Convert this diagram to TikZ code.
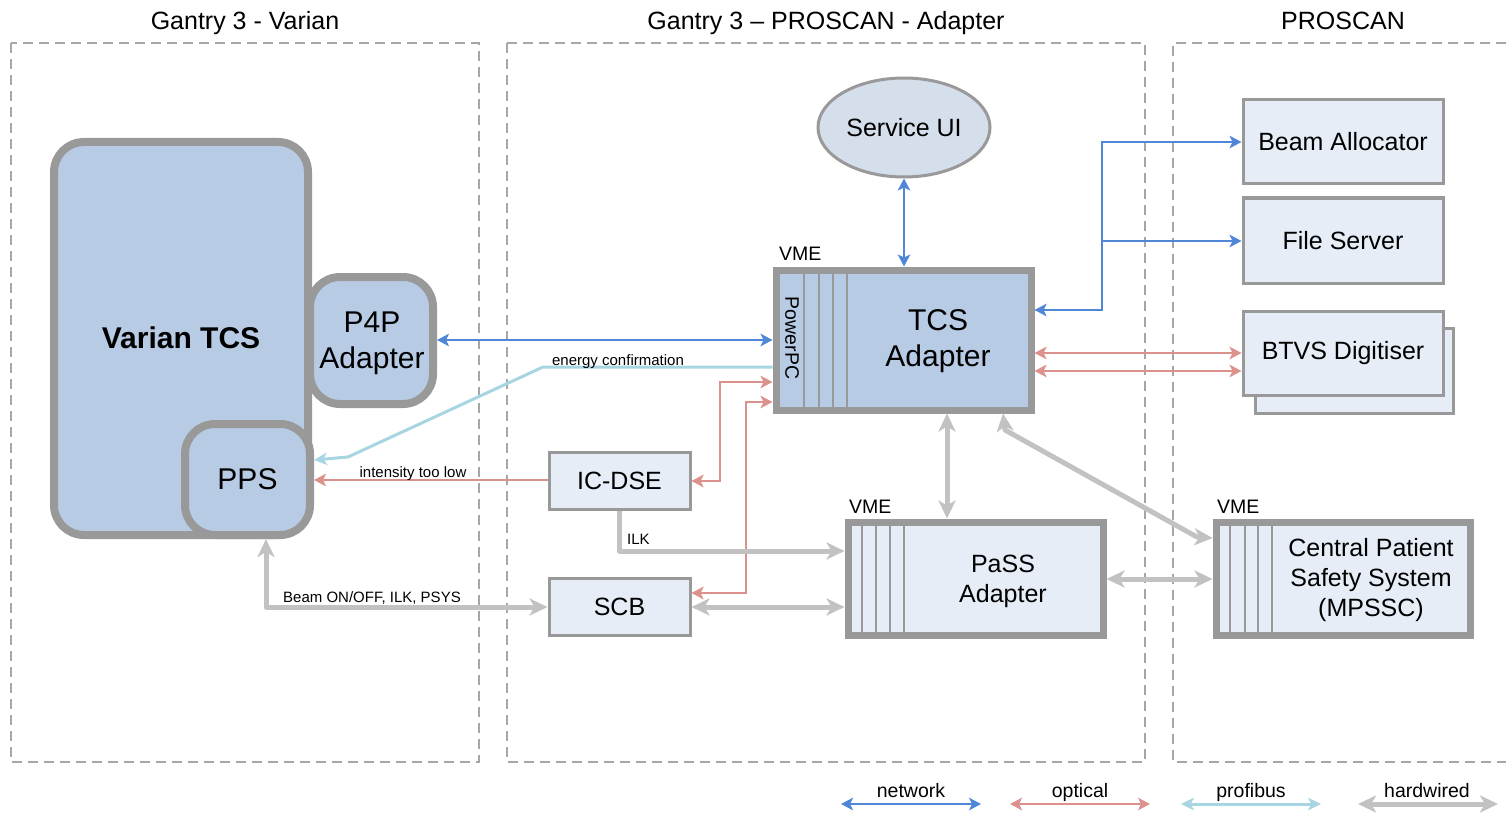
\documentclass[tikz,border=0pt]{standalone}
\usepackage{fontspec}
\setmainfont{Liberation Sans}
\usetikzlibrary{arrows.meta,shapes.geometric,calc}
\definecolor{netc}{HTML}{4F86D6}
\definecolor{optc}{HTML}{DD918C}
\definecolor{profc}{HTML}{A8D5E2}
\definecolor{hwc}{HTML}{C2C2C2}
\definecolor{bordc}{HTML}{999999}
\definecolor{darkfill}{HTML}{B7CBE4}
\definecolor{lightfill}{HTML}{E6EDF7}
\definecolor{ellfill}{HTML}{D5DEEB}
\definecolor{regc}{HTML}{A6A6A6}
\newcommand{\fsBig}{\fontsize{30}{36}\selectfont}
\newcommand{\fsMed}{\fontsize{25}{30}\selectfont}
\newcommand{\fsVme}{\fontsize{19.5}{23}\selectfont}
\newcommand{\fsSmall}{\fontsize{15}{18}\selectfont}
\tikzset{
  region/.style={draw=regc, line width=1.5pt, dash pattern=on 10pt off 6pt},
  title/.style={font=\fsMed, anchor=base, inner sep=0pt},
  roundbox/.style={draw=bordc, fill=darkfill, line width=8pt, rounded corners=30pt, inner sep=0pt},
  vmebox/.style={draw=bordc, line width=7pt, inner sep=0pt},
  lightbox/.style={draw=bordc, fill=lightfill, line width=3pt, inner sep=0pt, font=\fsMed},
  slot/.style={draw=bordc, line width=1.6pt},
  netw/.style={draw=netc, line width=2.7pt, >={Stealth[length=12pt,width=12.5pt,inset=3pt]}},
  opt/.style={draw=optc, line width=2.7pt, >={Stealth[length=12pt,width=12.5pt,inset=3pt]}},
  prof/.style={draw=profc, line width=3pt, >={Stealth[length=13pt,width=12.5pt,inset=3.5pt]}},
  hw/.style={draw=hwc, line width=5pt, line join=round, >={Stealth[length=18pt,width=17pt,inset=5pt]}},
  lbl/.style={inner sep=0pt, anchor=base west},
}
\begin{document}
\begin{tikzpicture}[x=1pt,y=-1pt]
\useasboundingbox (0,0) rectangle (1506,813);

% regions
\draw[region] (11,43) rectangle (479,762);
\draw[region] (507,43) rectangle (1145,762);
\draw[region] (1506,43) -- (1173,43) -- (1173,762) -- (1506,762);
\node[title] (t1) at (245,30) {Gantry 3 - Varian};
\node[title] (t2) at (826,30) {Gantry 3 – PROSCAN - Adapter};
\node[title] (t3) at (1343,30) {PROSCAN};

% Varian side
\node[roundbox, minimum width=254pt, minimum height=393pt] (varian) at (181,338.5) {};
\node[font=\fsBig\bfseries, inner sep=0pt] (varianl) at (181,338) {Varian TCS};
\node[roundbox, minimum width=123pt, minimum height=127pt] (p4p) at (371.5,340.5) {};
\node[font=\fsBig, align=center, inner sep=0pt] (p4pl) at (372,343) {P4P\\Adapter};
\node[roundbox, minimum width=125pt, minimum height=111pt, font=\fsBig] (pps) at (247.5,479.5) {PPS};

% Service UI
\node[ellipse, draw=bordc, fill=ellfill, line width=3pt, minimum width=172pt, minimum height=99pt, inner sep=0pt, font=\fsMed] (serv) at (904,127.5) {Service UI};

% TCS adapter
\node[vmebox, fill=darkfill, minimum width=255pt, minimum height=140pt] (tcs) at (903.5,340) {};
\foreach \xx in {804,819,833,847} \draw[slot] (\xx,273.5) -- (\xx,406.5);
\node[font=\fsVme, rotate=-90, inner sep=0pt] (ppc) at (792,338) {PowerPC};
\node[font=\fsBig, align=center, inner sep=0pt] (tcsl) at (938,341) {TCS\\Adapter};
\node[lbl, font=\fsVme] (vme1) at (779,260) {VME};

% servers
\node[lightbox, minimum width=200pt, minimum height=84pt] (ba) at (1343,142) {Beam Allocator};
\node[lightbox, minimum width=200pt, minimum height=85pt] (fs) at (1343,240.5) {File Server};
\node[lightbox, minimum width=198pt, minimum height=85pt] (btvsb) at (1354,370.5) {};
\node[lightbox, minimum width=200pt, minimum height=84pt] (btvs) at (1343,353) {BTVS Digitiser};

% IC-DSE, SCB
\node[lightbox, minimum width=141pt, minimum height=57pt] (icdse) at (619.5,480.5) {IC-DSE};
\node[lightbox, minimum width=141pt, minimum height=57pt] (scb) at (619.5,606.5) {SCB};

% PaSS adapter
\node[vmebox, fill=lightfill, minimum width=255pt, minimum height=113pt] (pass) at (975.5,578.5) {};
\foreach \xx in {862,876,890,904} \draw[slot] (\xx,525.5) -- (\xx,631.5);
\node[font=\fsMed, align=center, inner sep=0pt] (passl) at (1003,581) {PaSS\\Adapter};
\node[lbl, font=\fsVme] (vme2) at (849,513) {VME};

% MPSSC
\node[vmebox, fill=lightfill, minimum width=254pt, minimum height=113pt] (mpssc) at (1343,578.5) {};
\foreach \xx in {1230,1245,1258,1272} \draw[slot] (\xx,525.5) -- (\xx,631.5);
\node[font=\fsMed, align=center, inner sep=0pt] (mpsscl) at (1371,580) {Central Patient\\Safety System\\(MPSSC)};
\node[lbl, font=\fsVme] (vme3) at (1217,513) {VME};

% network connectors
\draw[netw,<->] (serv.south) -- (serv.south |- tcs.north);
\draw[netw,<->] (p4p.east |- 0,340) -- (tcs.west |- 0,340);
\coordinate (jba) at (1102,310);
\coordinate (jfs) at (1102,241);
\draw[netw,<->] (tcs.east |- 0,310) -- (jba) -- (1102,142) -- (ba.west);
\draw[netw,->] (jfs) -- (fs.west |- jfs);

% optical connectors
\draw[opt,<->] (tcs.east |- 0,353) -- (btvs.west |- 0,353);
\draw[opt,<->] (tcs.east |- 0,371) -- (btvs.west |- 0,371);
\draw[opt,<->] (tcs.west |- 0,382) -- (720,382) -- (720,481) -- (icdse.east |- 0,481);
\draw[opt,<->] (tcs.west |- 0,402) -- (746,402) -- (746,593) -- (scb.east |- 0,593);
\draw[opt,->] (icdse.west |- 0,480) -- (pps.east |- 0,480);
\node[lbl, font=\fsSmall, anchor=base] (itl) at (413,477) {intensity too low};

% profibus
\draw[prof,->] (tcs.west |- 0,367) -- (543,367) -- (348,457) -- (pps.east |- 0,460);
\node[lbl, font=\fsSmall, anchor=base] (ec) at (618,365) {energy confirmation};

% hardwired
\draw[hw,->] (icdse.south) |- (pass.west |- 0,551);
\node[lbl, font=\fsSmall] (ilk) at (627,544) {ILK};
\draw[hw,<->] (266,0 |- pps.south) |- (scb.west |- 0,607);
\node[lbl, font=\fsSmall] (beam) at (283,602) {Beam ON/OFF, ILK, PSYS};
\draw[hw,<->] (scb.east |- 0,607) -- (pass.west |- 0,607);
\draw[hw,<->] (947,0 |- tcs.south) -- (947,0 |- pass.north);
\draw[hw,<->] (1003,0 |- tcs.south) -- (1005,430) -- (1197,537) -- (mpssc.west |- 0,538);
\draw[hw,<->] (pass.east |- 0,579) -- (mpssc.west |- 0,579);

% legend
\coordinate (l1a) at (841,804); \coordinate (l1b) at (981,804);
\coordinate (l2a) at (1010,804); \coordinate (l2b) at (1150,804);
\coordinate (l3a) at (1181,804); \coordinate (l3b) at (1321,804);
\coordinate (l4a) at (1358,804); \coordinate (l4b) at (1498,804);
\draw[netw,<->] (l1a) -- (l1b);
\draw[opt,<->] (l2a) -- (l2b);
\draw[prof,<->] (l3a) -- (l3b);
\draw[hw,<->] (l4a) -- (l4b);
\node[font=\fsVme, anchor=base, inner sep=0pt] (lg1) at (911,797) {network};
\node[font=\fsVme, anchor=base, inner sep=0pt] (lg2) at (1080,797) {optical};
\node[font=\fsVme, anchor=base, inner sep=0pt] (lg3) at (1251,797) {profibus};
\node[font=\fsVme, anchor=base, inner sep=0pt] (lg4) at (1427,797) {hardwired};
\end{tikzpicture}
\end{document}
